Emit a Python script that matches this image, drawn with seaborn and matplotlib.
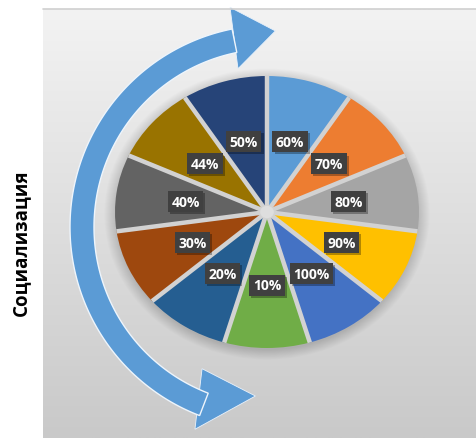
import numpy as np
import matplotlib
matplotlib.use("Agg")
import matplotlib.pyplot as plt
import seaborn as sns
import matplotlib.patheffects as pe
from matplotlib.patches import Polygon, Ellipse
from matplotlib.lines import Line2D
from matplotlib.colors import LinearSegmentedColormap

# Slice labels (clockwise from the top) and slice weights
levels = ["60%", "70%", "80%", "90%", "100%", "10%", "20%", "30%", "40%", "44%", "50%"]
shares = [1, 1, 1, 1, 1, 1, 1, 1, 1, 1, 1]
slice_colors = ["#5B9BD5", "#ED7D31", "#A5A5A5", "#FFC000", "#4472C4", "#70AD47",
                "#255E91", "#9E480E", "#636363", "#997300", "#264478"]
axis_title = "Социализация"

sns.set_theme(style="white")
plt.rcParams["font.family"] = ["Open Sans", "DejaVu Sans"]

W, H = 476, 439
fig = plt.figure(figsize=(W / 100, H / 100), dpi=100)
fig.patch.set_facecolor("white")

# Gradient panel behind the chart
bg = fig.add_axes([43 / W, 0, (W - 43) / W, (H - 10) / H])
grad = np.linspace(0, 1, 256)[:, None]
panel_cmap = LinearSegmentedColormap.from_list("panel", ["#f3f3f3", "#c9c9c9"])
bg.imshow(grad, aspect="auto", cmap=panel_cmap, extent=[0, 1, 0, 1], origin="upper")
bg.set_axis_off()
fig.add_artist(Line2D([43 / W, 1], [(H - 10) / H] * 2, color="#cfcfcf", lw=1.2))

# Curved double-ended arrow on the left
deco = fig.add_axes([0, 0, 1, 1])
deco.set_xlim(0, W)
deco.set_ylim(0, H)
deco.set_axis_off()
deco.patch.set_alpha(0)

arrow_blue = "#5B9BD5"
cx, cy = 272, H - 228
th = np.deg2rad(np.linspace(101.4, 249.0, 240))
outer = np.column_stack([cx + 202 * np.cos(th), cy + 202 * np.sin(th)])
inner = np.column_stack([cx + 178 * np.cos(th), cy + 178 * np.sin(th)])[::-1]


def head(base_c, base_ang, half, tip_ang, length):
    b = np.deg2rad(base_ang)
    t = np.deg2rad(tip_ang)
    p1 = (base_c[0] + half * np.cos(b), base_c[1] + half * np.sin(b))
    p2 = (base_c[0] - half * np.cos(b), base_c[1] - half * np.sin(b))
    tip = (base_c[0] + length * np.cos(t), base_c[1] + length * np.sin(t))
    return Polygon([p1, tip, p2], closed=True, fc=arrow_blue, ec="#eaf2fb", lw=0.6)


deco.add_patch(head((234, H - 39), 97.4, 31, 9.7, 42))
deco.add_patch(head((198.5, H - 400), 83.3, 30.5, 3.0, 57))
deco.add_patch(Polygon(np.vstack([outer, inner]), closed=True,
                       fc=arrow_blue, ec="#eef5fc", lw=1.0))

# Pie
pcx, pcy = 267, H - 213
rx, ry = 152, 136
pax = fig.add_axes([(pcx - rx) / W, (pcy - ry) / H, 2 * rx / W, 2 * ry / H])
pax.patch.set_alpha(0)

# soft shadow around the pie
for s in np.linspace(1.0, 1.07, 12):
    pax.add_patch(Ellipse((0.0, -0.015), 2 * s, 2 * s, color="black", alpha=0.012,
                          lw=0, zorder=0, clip_on=False))

wedges, _ = pax.pie(shares, colors=sns.color_palette(slice_colors), startangle=90,
                    counterclock=False, radius=1, wedgeprops=dict(linewidth=0))
pax.set_aspect("auto")
pax.set_xlim(-1, 1)
pax.set_ylim(-1, 1)
pax.set_axis_off()

# light gaps between slices
for w in wedges:
    w.set_clip_on(False)
    w.set_zorder(2)
    a = np.deg2rad(w.theta1)
    pax.plot([0, np.cos(a)], [0, np.sin(a)], color="#d2d2d2", lw=3.2,
             solid_capstyle="butt", zorder=3, clip_on=False)
pax.add_patch(Ellipse((0, 0), 0.09, 0.09, color="#dedede", lw=0, zorder=3))

for w, lab in zip(wedges, levels):
    ang = np.deg2rad((w.theta1 + w.theta2) / 2)
    t = pax.text(0.54 * np.cos(ang), 0.54 * np.sin(ang), lab, ha="center", va="center",
                 color="white", fontsize=10, fontweight="bold", zorder=5,
                 bbox=dict(boxstyle="square,pad=0.25", fc="#404040", ec="none"))
    t.get_bbox_patch().set_path_effects(
        [pe.SimplePatchShadow(offset=(1.5, -1.5), shadow_rgbFace="black", alpha=0.3),
         pe.Normal()])

fig.text(21 / W, 1 - 243 / H, axis_title, rotation=90, ha="center", va="center",
         fontsize=13.5, fontweight="bold", color="black")

fig.savefig("out.png", dpi=100)
